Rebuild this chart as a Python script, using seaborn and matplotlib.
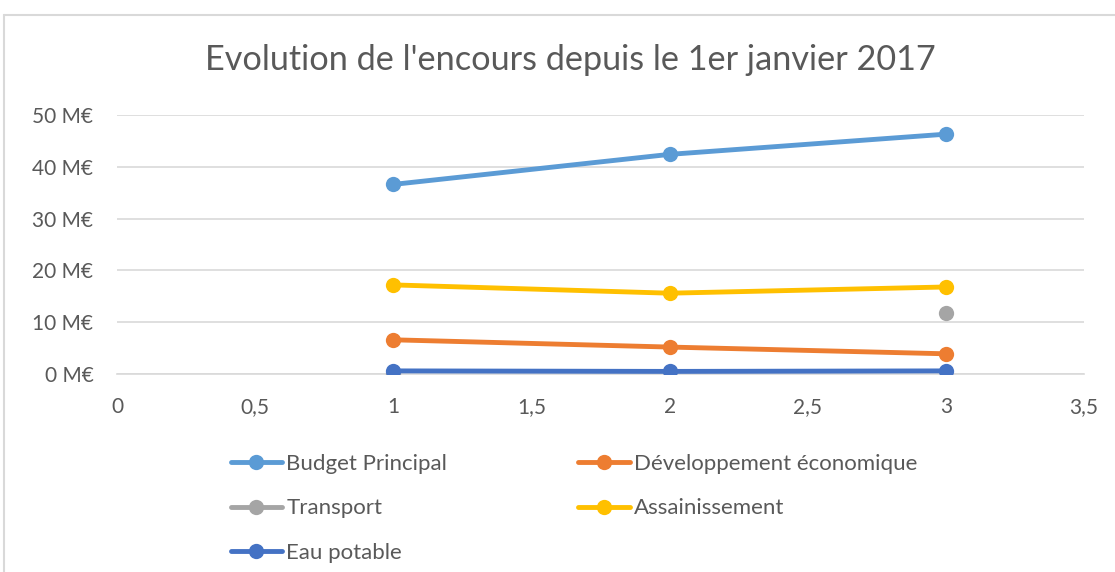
import matplotlib
matplotlib.use("Agg")
import matplotlib.pyplot as plt
from matplotlib.lines import Line2D
from matplotlib.ticker import FuncFormatter, MultipleLocator
import numpy as np
import pandas as pd
import seaborn as sns

x_vals = [1, 2, 3]
budget_principal = [36.6, 42.4, 46.3]
dev_eco = [6.6, 5.2, 3.9]
transport = [0.0, np.nan, 11.8]
assainissement = [17.2, 15.6, 16.8]
eau_potable = [0.6, 0.5, 0.6]

series_names = ["Budget Principal", "Développement économique", "Transport",
                "Assainissement", "Eau potable"]
series_values = [budget_principal, dev_eco, transport, assainissement, eau_potable]
colors = ["#5B9BD5", "#ED7D31", "#A5A5A5", "#FFC000", "#4472C4"]

sns.set_theme(style="white")
plt.rcParams['font.family'] = ['Lato', 'DejaVu Sans']

fig = plt.figure(figsize=(11.15, 5.72), dpi=100)
ax = fig.add_axes([117/1115, 1-374/572, (1084-117)/1115, (374-115)/572])

for name, vals, col in zip(series_names, series_values, colors):
    df = pd.DataFrame({"x": x_vals, "y": vals})
    df["seg"] = np.cumsum(df["y"].isna().values)
    df = df.dropna()
    sns.lineplot(data=df, x="x", y="y", units="seg", estimator=None, ax=ax,
                 color=col, linewidth=3.5, marker="o", markersize=11,
                 markeredgewidth=0, legend=False, zorder=3)

ax.set_xlim(0, 3.5)
ax.set_ylim(0, 50)
ax.xaxis.set_major_locator(MultipleLocator(0.5))
ax.yaxis.set_major_locator(MultipleLocator(10))
ax.xaxis.set_major_formatter(FuncFormatter(lambda v, p: ("%g" % v).replace(".", ",")))
ax.yaxis.set_major_formatter(FuncFormatter(lambda v, p: "%d M€" % v))
ax.set_xlabel("")
ax.set_ylabel("")
ax.grid(axis="y", color="#D9D9D9", linewidth=1.2, zorder=0)
ax.grid(axis="x", visible=False)
for s in ["top", "right", "left"]:
    ax.spines[s].set_visible(False)
ax.spines["bottom"].set_color("#D9D9D9")
ax.spines["bottom"].set_linewidth(1.2)
ax.tick_params(axis="both", length=0, labelsize=15, labelcolor="#595959")
ax.tick_params(axis="x", pad=16.5)
ax.tick_params(axis="y", pad=17)
ax.set_facecolor("none")

fig.text(570/1115, 1-60/572, "Evolution de l'encours depuis le 1er janvier 2017",
         ha="center", va="center", fontsize=24.7, color="#595959")

handles = {n: Line2D([], [], color=c, linewidth=3.5, marker="o", markersize=11,
                     markeredgewidth=0) for n, c in zip(series_names, colors)}
order = ["Budget Principal", "Transport", "Eau potable",
         "Développement économique", "Assainissement"]
fig.legend([handles[n] for n in order], order, ncol=2, loc="upper left",
           bbox_to_anchor=(222/1115, 1-445/572), frameon=False,
           fontsize=16, handlelength=2.3, handletextpad=0.2,
           columnspacing=5.9, labelspacing=1.1, labelcolor="#595959",
           borderaxespad=0)

fig.add_artist(Line2D([4/1115, 4/1115], [0, 1-15/572], transform=fig.transFigure,
                      color="#D9D9D9", linewidth=1.5))
fig.add_artist(Line2D([4/1115, 1], [1-15/572, 1-15/572], transform=fig.transFigure,
                      color="#D9D9D9", linewidth=1.5))

fig.savefig("out.png", dpi=100)
